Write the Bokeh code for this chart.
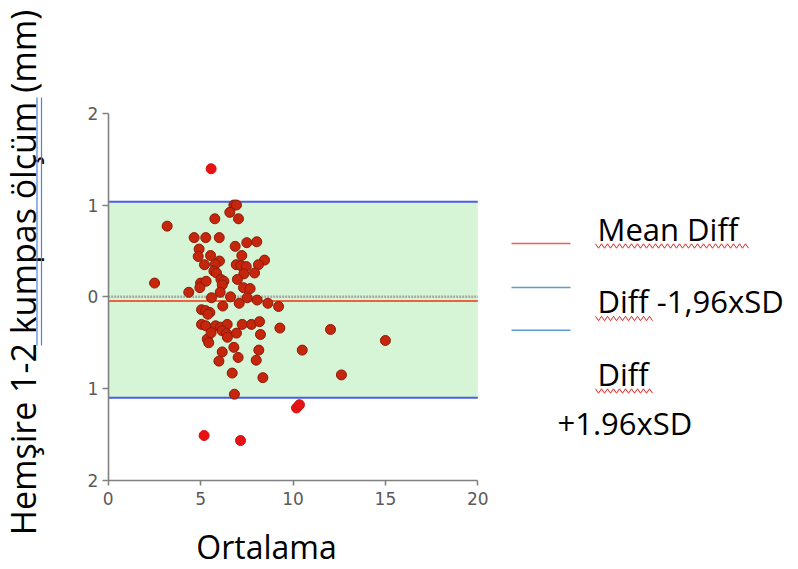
import numpy as np
from bokeh.plotting import figure
from bokeh.models import Range1d, FixedTicker
from bokeh.core.properties import value
from bokeh.embed import file_html
from bokeh.resources import INLINE

# ---------------- data ----------------
avg = [5.57, 6.80, 6.94, 6.58, 7.05, 5.77, 3.19, 4.65, 5.28, 6.01,
       6.87, 7.50, 8.04, 4.92, 7.23, 4.87, 5.54, 6.02, 8.46, 5.21,
       5.79, 6.93, 7.18, 7.47, 8.13, 5.72, 5.86, 7.34, 7.92, 6.10,
       6.99, 6.26, 2.51, 5.00, 5.30, 4.96, 6.17, 7.32, 7.68, 6.06,
       4.36, 5.59, 6.62, 7.52, 8.06, 7.09, 8.64, 9.22, 6.20, 5.05,
       5.27, 5.50, 5.39, 5.05, 5.28, 5.81, 6.08, 6.44, 6.17, 6.40,
       6.94, 7.25, 7.75, 8.19, 5.36, 5.44, 5.57, 6.45, 8.24, 9.29,
       12.03, 15.00, 6.17, 6.80, 8.15, 10.50, 5.99, 7.03, 8.01, 6.71,
       8.37, 12.62, 6.83, 10.19, 10.35, 5.19, 7.16]
diff = [1.395, 1.00, 1.00, 0.92, 0.85, 0.85, 0.77, 0.645, 0.645, 0.645,
        0.55, 0.59, 0.60, 0.52, 0.45, 0.44, 0.45, 0.39, 0.40, 0.35,
        0.355, 0.35, 0.34, 0.33, 0.35, 0.28, 0.26, 0.25, 0.26, 0.19,
        0.19, 0.17, 0.15, 0.15, 0.17, 0.10, 0.13, 0.10, 0.09, 0.05,
        0.05, -0.01, 0.00, -0.01, -0.035, -0.07, -0.07, -0.105, -0.10, -0.14,
        -0.15, -0.17, -0.19, -0.30, -0.315, -0.315, -0.33, -0.30, -0.37, -0.40,
        -0.395, -0.30, -0.30, -0.27, -0.46, -0.50, -0.39, -0.44, -0.41, -0.34,
        -0.355, -0.475, -0.60, -0.55, -0.58, -0.58, -0.70, -0.66, -0.69, -0.83,
        -0.88, -0.85, -1.06, -1.21, -1.175, -1.51, -1.565]
mean_diff = -0.045
upper_loa = 1.036
lower_loa = -1.10
x_ticks = [0, 5, 10, 15, 20]
y_ticks = [-2, -1, 0, 1, 2]
y_tick_labels = ["2", "1", "0", "1", "2"]
x_label = "Ortalama"
y_label = "Hemşire 1-2 kumpas ölçüm (mm)"
legend_texts = ["Mean Diff", "Diff -1,96xSD", "Diff", "+1.96xSD"]

FONT = "Open Sans"
W, H = 790, 568          # canvas in page pixels (canvas starts at page 0,0)
TXT_SHIFT = 11           # compensation for rendered text baseline offset

# page-pixel layout helpers (plot area: x 0..20 -> 107.7..477.3 px, y 2..-2 -> 112.7..480 px)
PX0, PX1 = 107.7, 477.3
PY0, PY1 = 112.7, 480.0
sxp = (PX1 - PX0) / (x_ticks[-1] - x_ticks[0])
syp = (PY1 - PY0) / (y_ticks[-1] - y_ticks[0])


def fx(px):
    return x_ticks[0] + (px - PX0) / sxp


def fy(py):
    return y_ticks[-1] - (py - PY0) / syp


p = figure(width=W, height=H,
           x_range=Range1d(fx(0), fx(W)),
           y_range=Range1d(fy(H), fy(0)),
           output_backend="svg", toolbar_location=None,
           min_border=0, min_border_left=0, min_border_right=0,
           min_border_top=0, min_border_bottom=0)
p.outline_line_color = None
p.grid.visible = False
p.background_fill_color = "white"
p.border_fill_color = "white"

for ax in (p.xaxis[0], p.yaxis[0]):
    ax.axis_line_color = "#808080"
    ax.axis_line_width = 1.6
    ax.major_tick_line_color = "#808080"
    ax.major_tick_line_width = 1.6
    ax.major_tick_in = 0
    ax.minor_tick_out = 0
    ax.minor_tick_in = 0
    ax.major_label_text_font = "DejaVu Sans"
    ax.major_label_text_font_size = "17px"
    ax.major_label_text_color = "#5a5a5a"

p.xaxis.fixed_location = y_ticks[0]
p.yaxis.fixed_location = x_ticks[0]
p.xaxis.bounds = (x_ticks[0], x_ticks[-1])
p.yaxis.bounds = (y_ticks[0], y_ticks[-1])
p.xaxis.ticker = FixedTicker(ticks=x_ticks)
p.yaxis.ticker = FixedTicker(ticks=y_ticks)
p.yaxis.major_label_overrides = {t: l for t, l in zip(y_ticks, y_tick_labels)}
p.xaxis.major_tick_out = 5
p.yaxis.major_tick_out = 6
p.xaxis.major_label_standoff = 6
p.yaxis.major_label_standoff = 4

x0, x1 = x_ticks[0], x_ticks[-1]
p.quad(left=x0, right=x1, bottom=lower_loa, top=upper_loa,
       fill_color="#d6f5d6", line_color=None)
p.line([x0, x1], [0, 0], line_color="#a8a8a8", line_width=2.5, line_dash="2 1")
p.line([x0, x1], [mean_diff, mean_diff], line_color="#e8643c", line_width=2)
p.line([x0, x1], [upper_loa, upper_loa], line_color="#4a5ee6", line_width=2)
p.line([x0, x1], [lower_loa, lower_loa], line_color="#4a5ee6", line_width=2)

a = np.array(avg)
d = np.array(diff)
inside = (d <= upper_loa) & (d >= lower_loa)
p.scatter(a[inside], d[inside], size=10, fill_color="#c6260c",
          line_color="#8a1c0a", line_width=1)
p.scatter(a[~inside], d[~inside], size=10, fill_color="#e81212",
          line_color="#d01010", line_width=1)

# x label
p.text(x=[fx(266)], y=[fy(557 - TXT_SHIFT)], text=[x_label], text_align="center",
       text_baseline="alphabetic", text_font=value(FONT),
       text_font_size="32px", text_color="black")

# y label (rotated) with double underline under "kumpas ölçüm"
p.text(x=[fx(33 - TXT_SHIFT)], y=[fy(272)], text=[y_label], angle=np.pi / 2,
       text_align="center", text_baseline="alphabetic",
       text_font=value(FONT), text_font_size="34px", text_color="black")
for ux in (36.5, 41.0):
    p.line([fx(ux), fx(ux)], [fy(97), fy(345)], line_color="#4f80dc", line_width=1.2)

# legend (drawn manually, as in the reference)
p.line([fx(511), fx(570)], [fy(243)] * 2, line_color="#f25a5a", line_width=1.5)
p.line([fx(511), fx(570)], [fy(287)] * 2, line_color="#5b9bd5", line_width=1.5)
p.line([fx(511), fx(570)], [fy(329.7)] * 2, line_color="#5b9bd5", line_width=1.5)

tx = [fx(597), fx(597), fx(597), fx(557)]
ty = [fy(239 - TXT_SHIFT), fy(311 - TXT_SHIFT), fy(384.3 - TXT_SHIFT), fy(433.3 - TXT_SHIFT)]
p.text(x=tx, y=ty, text=legend_texts, text_align="left",
       text_baseline="alphabetic", text_font=value(FONT),
       text_font_size="31px", text_color="black")


def squiggle(xa, xb, yc, period=6.0, amp=2.2):
    xs = np.arange(xa, xb + 0.01, period / 2)
    ys = yc + amp * np.where(np.arange(len(xs)) % 2 == 0, -1, 1)
    return [fx(v) for v in xs], [fy(v) for v in ys]


sq = [squiggle(595, 748, 245.5), squiggle(595, 653, 318), squiggle(595, 653, 390.5)]
p.multi_line([s[0] for s in sq], [s[1] for s in sq], line_color="#e82020",
             line_width=1)

open("out.html", "w").write(file_html(p, INLINE))
